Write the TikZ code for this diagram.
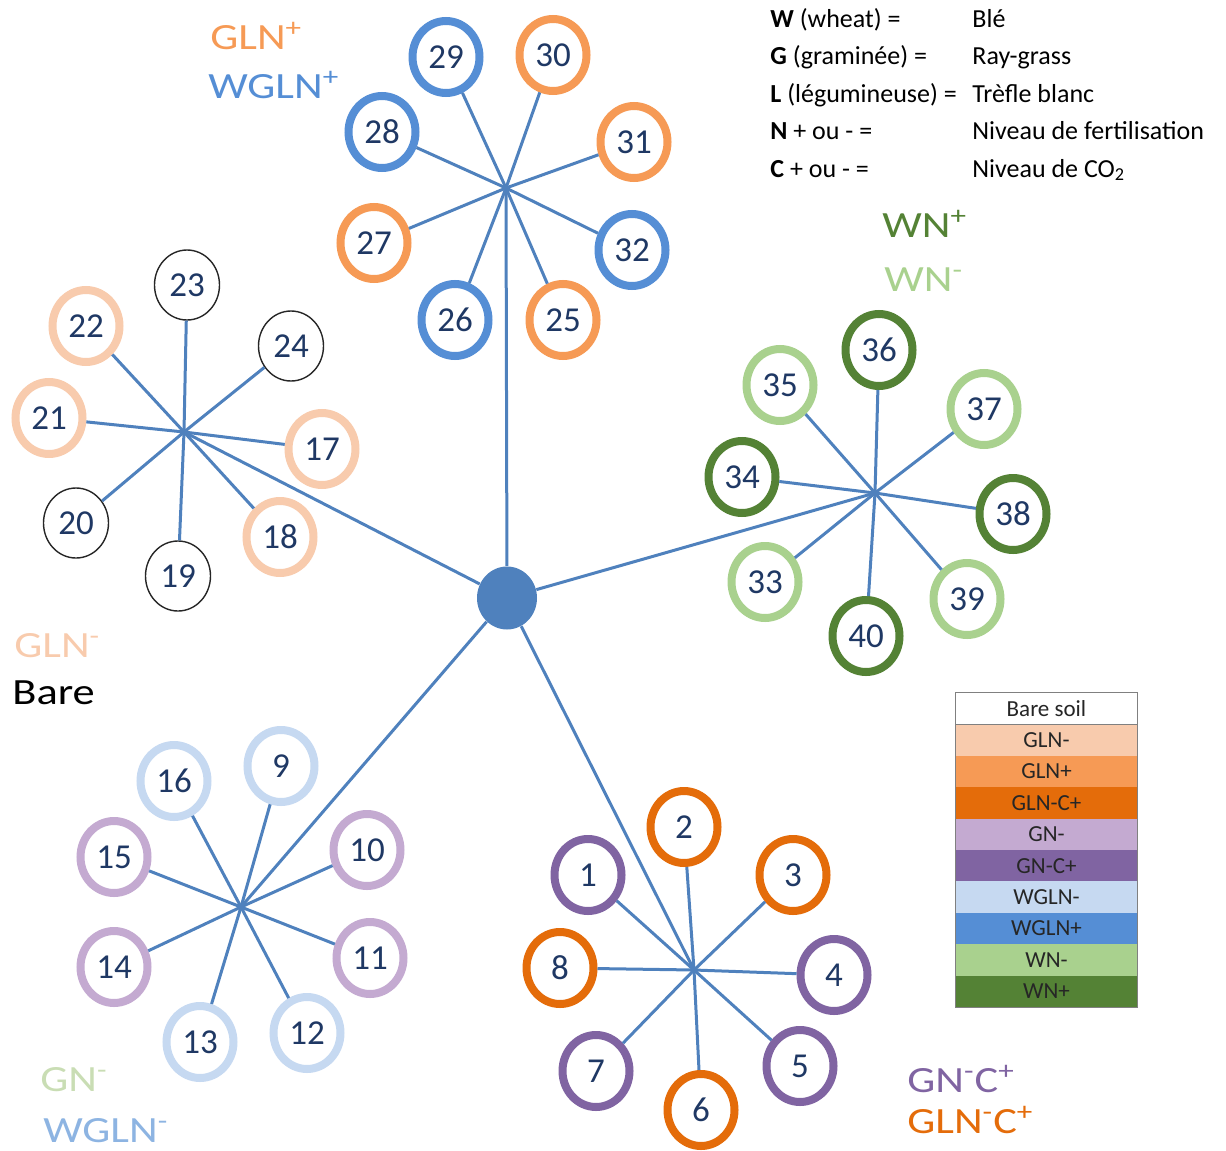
\documentclass[tikz,border=0pt]{standalone}
\usepackage{fontspec}
\setmainfont{Carlito}
\newfontfamily\wideface[FakeStretch=1.2]{Carlito}
\usetikzlibrary{shapes.geometric}

\definecolor{glnlo}{HTML}{F8CBAD}
\definecolor{glnhi}{HTML}{F69A55}
\definecolor{glnco}{HTML}{E46C0A}
\definecolor{gnlo}{HTML}{C4AAD1}
\definecolor{gnco}{HTML}{8064A2}
\definecolor{wglnlo}{HTML}{C6D9F1}
\definecolor{wglnhi}{HTML}{558ED5}
\definecolor{wglntxt}{HTML}{8DB4E2}
\definecolor{wnlo}{HTML}{A9D18E}
\definecolor{wnhi}{HTML}{548235}
\definecolor{gntxt}{HTML}{C9DDB4}
\definecolor{spokeblue}{HTML}{4F81BD}
\definecolor{numnavy}{HTML}{1F3864}

\newcommand\numfont{\fontsize{17.5}{19}\selectfont}
\newcommand\grpfont{\wideface\fontsize{18.5}{20}\selectfont}
\newcommand\keyfont{\fontsize{13}{15}\selectfont}
\newcommand\rowfont{\fontsize{11.5}{13}\selectfont}

\begin{document}
\begin{tikzpicture}[
    x=0.5pt, y=-0.5pt,
    ring/.style={ellipse, draw=#1, line width=4pt, fill=white, minimum width=33.5pt, minimum height=36pt, inner sep=0pt, text=numnavy, font=\numfont},
    bare/.style={ellipse, draw=black!85, line width=0.7pt, fill=white, minimum width=32.5pt, minimum height=35pt, inner sep=0pt, text=numnavy, font=\numfont},
    spoke/.style={spokeblue, line width=1.5pt},
    grp/.style={anchor=base west, inner sep=0pt, text=#1, font=\grpfont},
    key/.style={anchor=base west, inner sep=0pt, font=\keyfont},
    row/.style={fill=#1, minimum width=90.5pt, minimum height=15.7pt, inner sep=0pt, font=\rowfont, text=black!85},
]
\useasboundingbox (0,0) rectangle (1226,1151);

% hub and cluster centres
\node[ellipse, fill=spokeblue, minimum width=30pt, minimum height=31.5pt, inner sep=0pt] (hub) at (507,598) {};
\coordinate (top)      at (506,188);
\coordinate (left)     at (184,432);
\coordinate (right)    at (875,493);
\coordinate (botleft)  at (241,907);
\coordinate (botright) at (694,970);

% GLN+ / WGLN+
\node[ring=wglnhi] (n29) at (446, 57) {29};
\node[ring=glnhi]  (n30) at (553, 55) {30};
\node[ring=glnhi]  (n31) at (634,142) {31};
\node[ring=wglnhi] (n32) at (632,250) {32};
\node[ring=glnhi]  (n25) at (563,320) {25};
\node[ring=wglnhi] (n26) at (455,320) {26};
\node[ring=glnhi]  (n27) at (374,243) {27};
\node[ring=wglnhi] (n28) at (382,132) {28};

% GLN- / bare soil
\node[bare]       (n23) at (187,285) {23};
\node[bare]       (n24) at (291,346) {24};
\node[ring=glnlo] (n17) at (322,449) {17};
\node[ring=glnlo] (n18) at (280,537) {18};
\node[bare]       (n19) at (178,576) {19};
\node[bare]       (n20) at ( 76,523) {20};
\node[ring=glnlo] (n21) at ( 49,418) {21};
\node[ring=glnlo] (n22) at ( 86,326) {22};

% WN+ / WN-
\node[ring=wnhi] (n36) at (879,350) {36};
\node[ring=wnlo] (n37) at (984,409) {37};
\node[ring=wnhi] (n38) at (1013,514) {38};
\node[ring=wnlo] (n39) at (967,599) {39};
\node[ring=wnhi] (n40) at (866,636) {40};
\node[ring=wnlo] (n33) at (765,582) {33};
\node[ring=wnhi] (n34) at (742,477) {34};
\node[ring=wnlo] (n35) at (780,385) {35};

% GN- / WGLN-
\node[ring=wglnlo] (n9)  at (281, 766) {9};
\node[ring=gnlo]   (n10) at (367, 850) {10};
\node[ring=gnlo]   (n11) at (370, 958) {11};
\node[ring=wglnlo] (n12) at (307,1033) {12};
\node[ring=wglnlo] (n13) at (200,1042) {13};
\node[ring=gnlo]   (n14) at (114, 967) {14};
\node[ring=gnlo]   (n15) at (114, 857) {15};
\node[ring=wglnlo] (n16) at (174, 781) {16};

% GN-C+ / GLN-C+
\node[ring=gnco]  (n1) at (588, 875) {1};
\node[ring=glnco] (n2) at (684, 827) {2};
\node[ring=glnco] (n3) at (793, 875) {3};
\node[ring=gnco]  (n4) at (834, 975) {4};
\node[ring=gnco]  (n5) at (800,1066) {5};
\node[ring=glnco] (n6) at (701,1110) {6};
\node[ring=gnco]  (n7) at (596,1071) {7};
\node[ring=glnco] (n8) at (560, 968) {8};

% spokes
\draw[spoke] (hub) -- (top) (hub) -- (left) (hub) -- (right) (hub) -- (botleft) (hub) -- (botright);
\foreach \n in {25,...,32} \draw[spoke] (top) -- (n\n);
\foreach \n in {17,...,24} \draw[spoke] (left) -- (n\n);
\foreach \n in {33,...,40} \draw[spoke] (right) -- (n\n);
\foreach \n in {9,...,16}  \draw[spoke] (botleft) -- (n\n);
\foreach \n in {1,...,8}   \draw[spoke] (botright) -- (n\n);

% group labels
\node[grp=glnhi]  (lglnhi)  at (210,  49) {GLN\textsuperscript{+}};
\node[grp=wglnhi] (lwglnhi) at (208,  98) {WGLN\textsuperscript{+}};
\node[grp=wnhi]   (lwnhi)   at (882, 237) {WN\textsuperscript{+}};
\node[grp=wnlo]   (lwnlo)   at (884, 291) {WN\textsuperscript{-}};
\node[grp=glnlo]  (lglnlo)  at ( 14, 657) {GLN\textsuperscript{-}};
\node[grp=black]  (lbare)   at ( 12, 704) {Bare};
\node[grp=gntxt]  (lgnlo)   at ( 40,1091) {GN\textsuperscript{-}};
\node[grp=wglntxt](lwglnlo) at ( 43,1142) {WGLN\textsuperscript{-}};
\node[grp=gnco]   (lgnco)   at (907,1092) {GN\textsuperscript{-}C\textsuperscript{+}};
\node[grp=glnco]  (lglnco)  at (907,1133) {GLN\textsuperscript{-}C\textsuperscript{+}};

% abbreviations
\node[key] (kw) at (770, 27) {\textbf{W} (wheat) =};
\node[key] (kg) at (770, 64) {\textbf{G} (graminée) =};
\node[key] (kl) at (770,102) {\textbf{L} (légumineuse) =};
\node[key] (kn) at (770,139) {\textbf{N} + ou - =};
\node[key] (kc) at (770,177) {\textbf{C} + ou - =};
\node[key] (vw) at (972, 27) {Blé};
\node[key] (vg) at (972, 64) {Ray-grass};
\node[key] (vl) at (972,102) {Trèfle blanc};
\node[key] (vn) at (972,139) {Niveau de fertilisation};
\node[key] (vc) at (972,177) {Niveau de CO\textsubscript{2}};

% colour key
\foreach \c/\t [count=\i from 0] in {white/Bare soil, glnlo/GLN-, glnhi/GLN+, glnco/GLN-C+, gnlo/GN-, gnco/GN-C+, wglnlo/WGLN-, wglnhi/WGLN+, wnlo/WN-, wnhi/WN+}
    \node[row=\c] (row\i) at (1046.5, {708.7+31.4*\i}) {\t};
\draw[gray, line width=0.6pt] (row0.north west) rectangle (row9.south east);
\draw[gray, line width=0.6pt] (row0.south west) -- (row0.south east);

\end{tikzpicture}
\end{document}
